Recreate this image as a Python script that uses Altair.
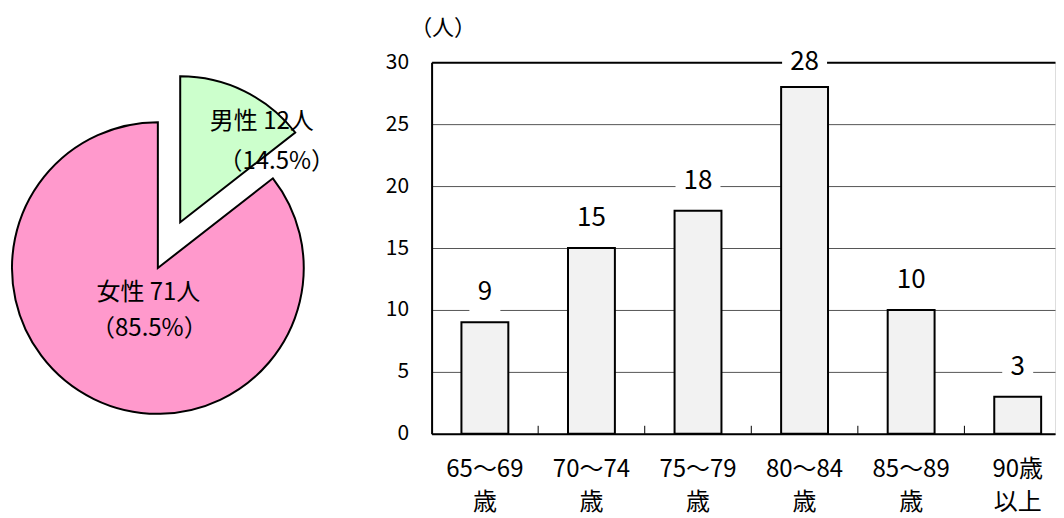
import math
import altair as alt
import pandas as pd

FONT = "Noto Sans CJK JP"

# ---- data ----
genders = ["男性", "女性"]
gender_counts = [12, 71]
gender_colors = ["#CCFFCC", "#FF99CC"]

age_groups = ["65～69|歳", "70～74|歳", "75～79|歳", "80～84|歳", "85～89|歳", "90歳|以上"]
age_counts = [9, 15, 18, 28, 10, 3]
y_ticks = [0, 5, 10, 15, 20, 25, 30]
y_max = 30
y_unit = "（人）"

total = sum(gender_counts)

# ---- pie ----
pie_df = pd.DataFrame({"gender": genders, "count": gender_counts, "order": list(range(len(genders)))})

pie_base = (
    alt.Chart(pie_df)
    .transform_window(cum="sum(count)", sort=[alt.SortField("order")])
    .transform_calculate(
        start="datum.cum - datum.count",
        name_line="datum.gender + ' ' + datum.count + '人'",
        pct_line=f"'（' + format(datum.count / {total} * 100, '.1f') + '%）'",
    )
)

theta = alt.Theta("start:Q", scale=alt.Scale(domain=[0, total], range=[0, 2 * math.pi]))
color = alt.Color("gender:N", scale=alt.Scale(domain=genders, range=gender_colors), legend=None)

R = 146
explode = 51
mid_male = (gender_counts[0] / 2) / total * 2 * math.pi
ox = explode * math.sin(mid_male)
oy = -explode * math.cos(mid_male)

male = pie_base.transform_filter("datum.gender == '男性'")
female = pie_base.transform_filter("datum.gender == '女性'")

female_arc = female.mark_arc(radius=R, stroke="black", strokeWidth=2).encode(
    theta=theta, theta2="cum:Q", color=color
)
male_arc = male.mark_arc(radius=R, stroke="black", strokeWidth=2, xOffset=ox, yOffset=oy).encode(
    theta=theta, theta2="cum:Q", color=color
)

PIE_FS = 24
txt = dict(font=FONT, fontSize=PIE_FS, baseline="middle", color="black")
male_name = male.mark_text(dx=104, dy=-146, **txt).encode(text="name_line:N")
male_pct = male.mark_text(dx=119, dy=-106, **txt).encode(text="pct_line:N")
female_name = female.mark_text(dx=-9.5, dy=25, **txt).encode(text="name_line:N")
female_pct = female.mark_text(dx=-8.5, dy=61, **txt).encode(text="pct_line:N")

pie = alt.layer(female_arc, male_arc, male_name, male_pct, female_name, female_pct).properties(
    width=300, height=412
)

# ---- bars ----
bar_df = pd.DataFrame({"age": age_groups, "count": age_counts})

VIEW_W = 624      # visible plot width (the original is cut off at the right)
STEP = 640 / 6    # category step of the original
PLOT_H = 372
P_IN = 0.56
n = len(age_groups)
p_out = (VIEW_W / STEP - n + P_IN) / 2
align = (STEP * P_IN / 2) / (VIEW_W - STEP * (n - P_IN))
px_per_unit = PLOT_H / y_max

x_scale = alt.Scale(paddingInner=P_IN, paddingOuter=p_out, align=align)

x_enc = alt.X(
    "age:N",
    sort=age_groups,
    scale=x_scale,
    axis=alt.Axis(
        title=None,
        labelExpr="split(datum.label, '|')",
        labelAngle=0,
        labelFont=FONT,
        labelFontSize=24,
        labelColor="black",
        labelPadding=24,
        labelLineHeight=33,
        ticks=False,
        domainColor="black",
        domainWidth=2,
        grid=False,
    ),
)

y_enc = alt.Y(
    "count:Q",
    scale=alt.Scale(domain=[0, y_max], nice=False),
    axis=alt.Axis(
        values=y_ticks,
        title=y_unit,
        titleAngle=0,
        titleX=11,
        titleY=-35,
        titleAlign="center",
        titleBaseline="middle",
        titleFont=FONT,
        titleFontSize=22,
        titleFontWeight="normal",
        titleColor="black",
        labelFont=FONT,
        labelFontSize=21,
        labelColor="black",
        labelPadding=23,
        ticks=False,
        domainColor="black",
        domainWidth=2,
        gridColor={"condition": {"test": f"datum.value == {y_max}", "value": "black"}, "value": "#555555"},
        gridWidth={"condition": {"test": f"datum.value == {y_max}", "value": 2}, "value": 1},
    ),
)

bar_base = alt.Chart(bar_df).transform_calculate(
    labpos=f"min(datum.count + {30 / px_per_unit}, {y_max})"
)
x_plain = alt.X("age:N", sort=age_groups, scale=x_scale)

bars = bar_base.mark_bar(fill="#F2F2F2", stroke="black", strokeWidth=2).encode(x=x_enc, y=y_enc)

# white boxes behind the value labels (hide gridlines like the original)
box2 = "M-1.125,-1L1.125,-1L1.125,1L-1.125,1Z"
box1 = "M-0.775,-1L0.775,-1L0.775,1L-0.775,1Z"
boxes = bar_base.mark_point(filled=True, fill="white", opacity=1, strokeWidth=0, size=1600).encode(
    x=x_plain,
    y=alt.Y("labpos:Q"),
    shape=alt.condition("datum.count >= 10", alt.value(box2), alt.value(box1)),
)

labels = bar_base.mark_text(font=FONT, fontSize=26, baseline="middle", color="black").encode(
    x=x_plain, y=alt.Y("labpos:Q"), text="count:Q"
)

inner_ticks = (
    bar_base.transform_filter(f"datum.age != '{age_groups[-1]}'")
    .mark_rule(color="black", strokeWidth=1, xOffset=STEP * P_IN / 2)
    .encode(
        x=alt.X("age:N", sort=age_groups, scale=x_scale, bandPosition=1),
        y=alt.datum(0),
        y2=alt.datum(0.65),
    )
)

bar_chart = alt.layer(bars, boxes, labels, inner_ticks).properties(width=VIEW_W, height=PLOT_H)

chart = (
    alt.hconcat(pie, bar_chart, spacing=124, bounds="flush")
    .properties(padding={"left": 0, "top": 7, "right": 0, "bottom": 0})
    .configure_view(stroke=None)
    .configure(font=FONT)
)

chart.save("out.html", embed_options={"renderer": "svg", "actions": False})
